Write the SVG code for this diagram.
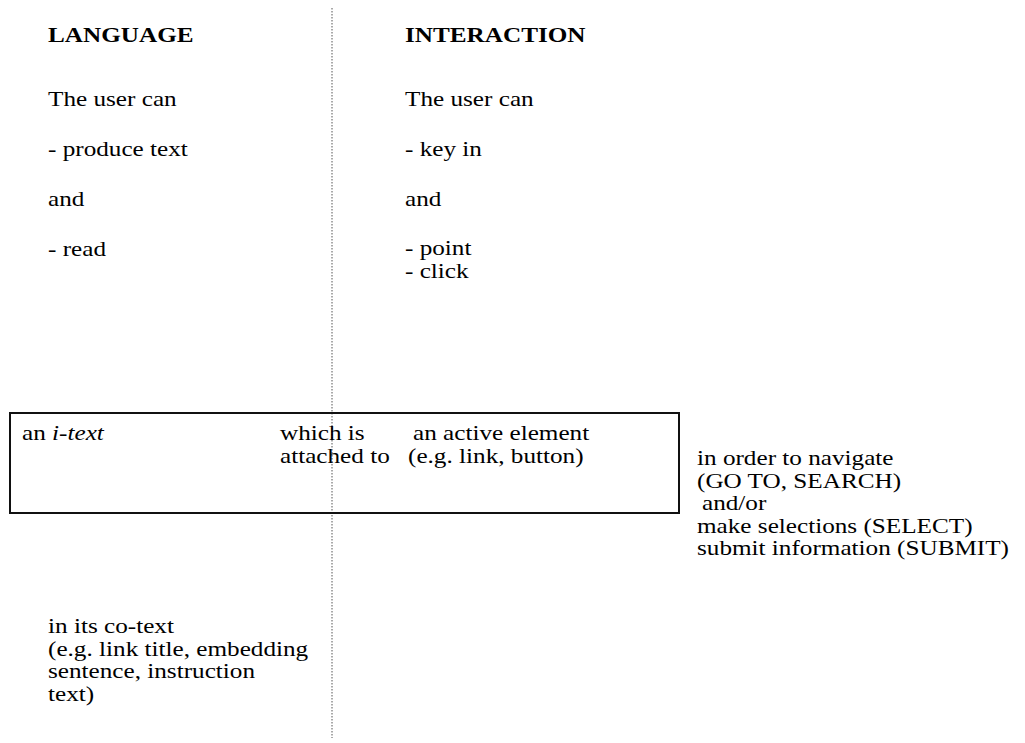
<svg xmlns="http://www.w3.org/2000/svg" width="1025" height="743" viewBox="0 0 1025 743">
  <style>
    .t { font-family: "Liberation Serif", "Times New Roman", serif; font-size: 20px; fill: #000; }
    .h { font-weight: bold; }
    .i { font-style: italic; }
    .divider { stroke: #555; stroke-width: 1; stroke-dasharray: 1.5 1.5; fill: none; }
    .frame { stroke: #111; stroke-width: 2; fill: none; }
  </style>

  <!-- column divider -->
  <g id="connectors">
    <line class="divider" x1="332" y1="8" x2="332" y2="738"/>
  </g>

  <!-- column headers -->
  <g id="header-language">
    <text class="t h" transform="translate(48 42) scale(1.26 1)">LANGUAGE</text>
  </g>
  <g id="header-interaction">
    <text class="t h" transform="translate(405 42) scale(1.26 1)">INTERACTION</text>
  </g>

  <!-- language column -->
  <g id="language-actions">
    <text class="t" transform="translate(48 106) scale(1.26 1)">The user can</text>
    <text class="t" transform="translate(48 156) scale(1.26 1)">- produce text</text>
    <text class="t" transform="translate(48 206) scale(1.26 1)">and</text>
    <text class="t" transform="translate(48 256) scale(1.26 1)">- read</text>
  </g>

  <!-- interaction column -->
  <g id="interaction-actions">
    <text class="t" transform="translate(405 106) scale(1.26 1)">The user can</text>
    <text class="t" transform="translate(405 156) scale(1.26 1)">- key in</text>
    <text class="t" transform="translate(405 206) scale(1.26 1)">and</text>
    <text class="t" transform="translate(405 255) scale(1.26 1)">- point</text>
    <text class="t" transform="translate(405 278) scale(1.26 1)">- click</text>
  </g>

  <!-- i-text box -->
  <g id="itext-box">
    <rect class="frame" x="10" y="413" width="669" height="100"/>
    <text class="t" transform="translate(22 440) scale(1.26 1)">an <tspan class="i">i-text</tspan></text>
    <text class="t" transform="translate(280 440) scale(1.26 1)">which is</text>
    <text class="t" transform="translate(280 463) scale(1.26 1)">attached to</text>
    <text class="t" transform="translate(413 440) scale(1.26 1)">an active element</text>
    <text class="t" transform="translate(408 463) scale(1.26 1)">(e.g. link, button)</text>
  </g>

  <!-- purposes -->
  <g id="purposes">
    <text class="t" transform="translate(697 465) scale(1.26 1)">in order to navigate</text>
    <text class="t" transform="translate(697 487.5) scale(1.26 1)">(GO TO, SEARCH)</text>
    <text class="t" transform="translate(702 510) scale(1.26 1)">and/or</text>
    <text class="t" transform="translate(697 532.5) scale(1.26 1)">make selections (SELECT)</text>
    <text class="t" transform="translate(697 555) scale(1.26 1)">submit information (SUBMIT)</text>
  </g>

  <!-- co-text -->
  <g id="co-text">
    <text class="t" transform="translate(48 633) scale(1.26 1)">in its co-text</text>
    <text class="t" transform="translate(48 655.5) scale(1.26 1)">(e.g. link title, embedding</text>
    <text class="t" transform="translate(48 678) scale(1.26 1)">sentence, instruction</text>
    <text class="t" transform="translate(48 700.5) scale(1.26 1)">text)</text>
  </g>
</svg>
